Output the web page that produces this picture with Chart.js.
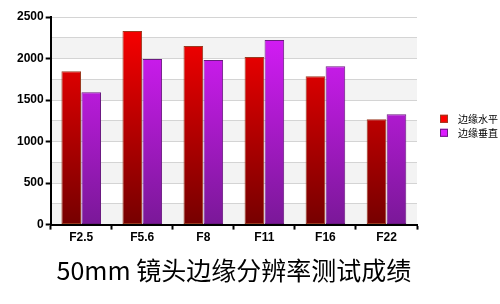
<!DOCTYPE html>
<html>
<head>
<meta charset="utf-8">
<script src="https://cdn.jsdelivr.net/npm/chart.js@4"></script>
<style>
  html, body { margin: 0; padding: 0; background: #fff; }
  #wrap { width: 500px; height: 304px; }
</style>
</head>
<body>
<div id="wrap"><canvas id="c"></canvas></div>
<script>
'use strict'

var labels = ['F2.5', 'F5.6', 'F8', 'F11', 'F16', 'F22'];
var horiz = [1848, 2331, 2150, 2017, 1787, 1268];
var vert = [1594, 1993, 1981, 2222, 1908, 1328];
var seriesNames = ['边缘水平', '边缘垂直'];
var yTicks = [0, 500, 1000, 1500, 2000, 2500];

var tops = ['#ff0000', '#dc1cff'];
var bottoms = ['#760000', '#7a1898'];
var edges = ['#9a3a20', '#6a1a80'];

function grad(ctx, i) {
  var chart = ctx.chart;
  var area = chart.chartArea;
  if (!area) return tops[i];
  var g = chart.ctx.createLinearGradient(0, area.top, 0, area.bottom);
  g.addColorStop(0, tops[i]);
  g.addColorStop(1, bottoms[i]);
  return g;
}

// alternating grey bands behind the bars
var bands = {
  id: 'bands',
  beforeDraw: function (chart) {
    var y = chart.scales.y, a = chart.chartArea, c = chart.ctx;
    c.save();
    for (var v = 0, i = 0; v < 2500; v += 250, i++) {
      if (i % 2 === 0) {
        c.fillStyle = '#f3f3f3';
        var t = y.getPixelForValue(v + 250), b = y.getPixelForValue(v);
        c.fillRect(a.left, t, a.right - a.left, b - t);
      }
    }
    c.restore();
  }
};

// legend off to the right of the plot, like the original
var sideLegend = {
  id: 'sideLegend',
  afterDraw: function (chart) {
    var a = chart.chartArea, c = chart.ctx;
    var x = a.right + 23;
    var y0 = (a.top + a.bottom) / 2 - 2;
    c.save();
    c.font = '10px "Noto Sans CJK SC"';
    c.textBaseline = 'middle';
    chart.data.datasets.forEach(function (ds, i) {
      var y = y0 + i * 14;
      c.fillStyle = tops[i];
      c.fillRect(x, y - 4, 8, 8);
      c.strokeStyle = edges[i];
      c.lineWidth = 1;
      c.strokeRect(x + 0.5, y - 3.5, 7, 7);
      c.fillStyle = '#000';
      c.fillText(ds.label, x + 18, y);
    });
    c.restore();
  }
};

var ctx = document.getElementById('c');
var mychart = new Chart(ctx, {
  type: 'bar',
  data: {
    labels: labels,
    datasets: [{
      label: seriesNames[0],
      data: horiz,
      backgroundColor: function (c) { return grad(c, 0); },
      borderColor: edges[0],
      borderWidth: 1,
      borderSkipped: false
    }, {
      label: seriesNames[1],
      data: vert,
      backgroundColor: function (c) { return grad(c, 1); },
      borderColor: edges[1],
      borderWidth: 1,
      borderSkipped: false
    }]
  },
  options: {
    responsive: true,
    maintainAspectRatio: false,
    animation: false,
    layout: { padding: { top: 17, left: 15, right: 83, bottom: 0 } },
    datasets: { bar: { categoryPercentage: 0.655, barPercentage: 0.98 } },
    scales: {
      x: {
        grid: { drawOnChartArea: false, tickLength: 5, tickColor: '#000', tickWidth: 2 },
        border: { color: '#000', width: 2 },
        ticks: { color: '#000', font: { family: 'Liberation Sans', size: 12, weight: 'bold' }, padding: 1 }
      },
      y: {
        min: 0,
        max: 2500,
        ticks: {
          stepSize: 250,
          color: '#000',
          padding: 2,
          font: { family: 'Liberation Sans', size: 12, weight: 'bold' },
          callback: function (v) { return yTicks.indexOf(v) >= 0 ? v : ''; }
        },
        grid: {
          color: '#d4d4d4',
          tickLength: 5,
          tickWidth: 2,
          tickColor: function (c) { return yTicks.indexOf(c.tick && c.tick.value) >= 0 ? '#000' : 'rgba(0,0,0,0)'; }
        },
        border: { color: '#000', width: 2 }
      }
    },
    plugins: {
      legend: { display: false },
      title: {
        display: true,
        fullSize: false,
        position: 'bottom',
        text: '50mm 镜头边缘分辨率测试成绩',
        color: '#000',
        font: { family: 'Noto Sans CJK SC', size: 25, weight: 'normal' },
        padding: { top: 9, bottom: 19 }
      },
      tooltip: { enabled: false }
    }
  },
  plugins: [bands, sideLegend]
});
</script>
</body>
</html>
